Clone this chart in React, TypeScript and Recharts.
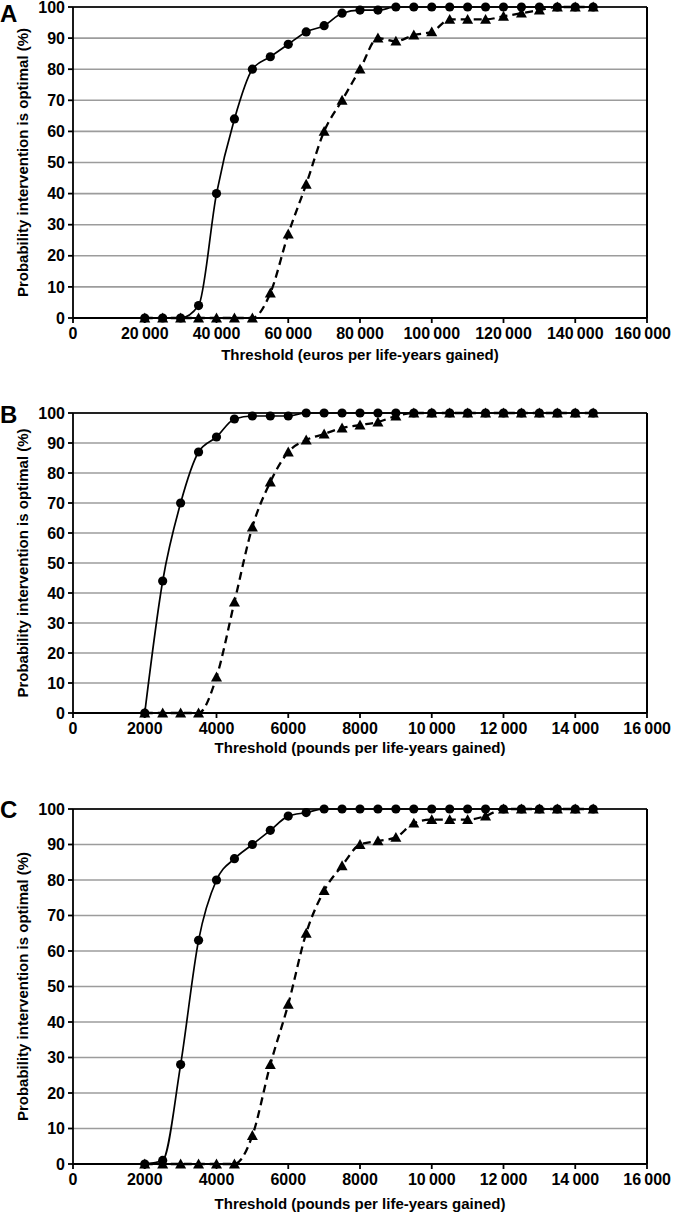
import React from "react";
import {
  LineChart,
  Line,
  XAxis,
  YAxis,
  CartesianGrid,
  ReferenceLine,
} from "recharts";

// thresholds (x) and probabilities (%)
const eurosX = [
  20000, 25000, 30000, 35000, 40000, 45000, 50000, 55000, 60000, 65000, 70000,
  75000, 80000, 85000, 90000, 95000, 100000, 105000, 110000, 115000, 120000,
  125000, 130000, 135000, 140000, 145000,
];
const eurosCircle = [
  0, 0, 0, 4, 40, 64, 80, 84, 88, 92, 94, 98, 99, 99, 100, 100, 100, 100, 100,
  100, 100, 100, 100, 100, 100, 100,
];
const eurosTriangle = [
  0, 0, 0, 0, 0, 0, 0, 8, 27, 43, 60, 70, 80, 90, 89, 91, 92, 96, 96, 96, 97,
  98, 99, 100, 100, 100,
];

const poundsX = [
  2000, 2500, 3000, 3500, 4000, 4500, 5000, 5500, 6000, 6500, 7000, 7500, 8000,
  8500, 9000, 9500, 10000, 10500, 11000, 11500, 12000, 12500, 13000, 13500,
  14000, 14500,
];
const bCircle = [
  0, 44, 70, 87, 92, 98, 99, 99, 99, 100, 100, 100, 100, 100, 100, 100, 100,
  100, 100, 100, 100, 100, 100, 100, 100, 100,
];
const bTriangle = [
  0, 0, 0, 0, 12, 37, 62, 77, 87, 91, 93, 95, 96, 97, 99, 100, 100, 100, 100,
  100, 100, 100, 100, 100, 100, 100,
];
const cCircle = [
  0, 1, 28, 63, 80, 86, 90, 94, 98, 99, 100, 100, 100, 100, 100, 100, 100, 100,
  100, 100, 100, 100, 100, 100, 100, 100,
];
const cTriangle = [
  0, 0, 0, 0, 0, 0, 8, 28, 45, 65, 77, 84, 90, 91, 92, 96, 97, 97, 97, 98, 100,
  100, 100, 100, 100, 100,
];

const eurosTicks = [0, 20000, 40000, 60000, 80000, 100000, 120000, 140000, 160000];
const poundsTicks = [0, 2000, 4000, 6000, 8000, 10000, 12000, 14000, 16000];
const yTicks = [0, 10, 20, 30, 40, 50, 60, 70, 80, 90, 100];

const FONT = '"Liberation Sans", Arial, Helvetica, sans-serif';
const Y_TITLE = "Probability intervention is optimal (%)";
const TOP = 10;

function fmt(v: number) {
  if (v < 10000) return String(v);
  return `${Math.floor(v / 1000)}\u2009${String(v % 1000).padStart(3, "0")}`;
}

function build(xs: number[], c: number[], t: number[]) {
  return xs.map((x, i) => ({ x, c: c[i], t: t[i] }));
}

function CircleDot(props: any) {
  const { cx, cy, index } = props;
  if (cx == null || cy == null) return <g key={`c-${index}`} />;
  return <circle key={`c-${index}`} cx={cx} cy={cy} r={4.6} fill="#000" />;
}

function TriangleDot(props: any) {
  const { cx, cy, index } = props;
  if (cx == null || cy == null) return <g key={`t-${index}`} />;
  const s = 5.5;
  return (
    <path
      key={`t-${index}`}
      d={`M${cx},${cy - s} L${cx + s},${cy + s * 0.8} L${cx - s},${cy + s * 0.8} Z`}
      fill="#000"
    />
  );
}

// x tick label; the last one is nudged left so it stays inside the page
function XTick(props: any) {
  const { x, y, payload, index, visibleTicksCount } = props;
  const last = index === visibleTicksCount - 1;
  return (
    <text
      x={last ? x + 24 : x}
      y={y}
      dy="0.71em"
      textAnchor={last ? "end" : "middle"}
      fill="#000"
      fontSize={16}
      fontWeight={700}
      fontFamily={FONT}
    >
      {fmt(payload.value)}
    </text>
  );
}

interface PanelProps {
  plotTop: number;
  height: number;
  plotHeight: number;
  data: { x: number; c: number; t: number }[];
  xTicks: number[];
  xTitle: string;
  titleOffset: number;
}

function Panel({ plotTop, height, plotHeight, data, xTicks, xTitle, titleOffset }: PanelProps) {
  const xMax = xTicks[xTicks.length - 1];
  const tickStyle = { fill: "#000", fontSize: 16, fontWeight: 700, fontFamily: FONT };
  return (
    <div style={{ position: "absolute", left: 0, top: plotTop - TOP }}>
      <LineChart
        width={673}
        height={height}
        data={data}
        margin={{ top: TOP, right: 26, left: 0, bottom: 0 }}
      >
        <CartesianGrid
          horizontal
          vertical={false}
          stroke="#9c9c9c"
          strokeWidth={1.6}
        />
        <XAxis
          type="number"
          dataKey="x"
          domain={[0, xMax]}
          ticks={xTicks}
          interval={0}
          height={height - TOP - plotHeight}
          stroke="#000"
          strokeWidth={1.8}
          tickSize={5}
          tickMargin={5}
          tick={<XTick />}
          label={{
            value: xTitle,
            position: "insideBottom",
            offset: titleOffset,
            fill: "#000",
            fontSize: 15,
            fontWeight: 700,
            fontFamily: FONT,
          }}
        />
        <YAxis
          type="number"
          domain={[0, 100]}
          ticks={yTicks}
          interval={0}
          width={73}
          stroke="#000"
          strokeWidth={1.8}
          tickSize={5}
          tickMargin={3}
          tick={tickStyle}
          label={{
            content: (p: any) => {
              const vb = p.viewBox || { y: TOP, height: plotHeight };
              const cy = vb.y + vb.height / 2;
              return (
                <text
                  x={22}
                  y={cy}
                  transform={`rotate(-90 22 ${cy})`}
                  textAnchor="middle"
                  dominantBaseline="central"
                  fill="#000"
                  fontSize={15}
                  fontWeight={700}
                  fontFamily={FONT}
                >
                  {Y_TITLE}
                </text>
              );
            },
          }}
        />
        <ReferenceLine y={100} stroke="#222" strokeWidth={2} />
        <ReferenceLine x={xMax} stroke="#000" strokeWidth={2} />
        <Line
          type="monotone"
          dataKey="t"
          stroke="#000"
          strokeWidth={2.3}
          strokeDasharray="8 5"
          dot={TriangleDot}
          activeDot={false}
          isAnimationActive={false}
        />
        <Line
          type="monotone"
          dataKey="c"
          stroke="#000"
          strokeWidth={1.7}
          dot={CircleDot}
          activeDot={false}
          isAnimationActive={false}
        />
      </LineChart>
    </div>
  );
}

export default function App() {
  return (
    <div style={{ position: "relative", width: 673, height: 1216, background: "#fff", fontFamily: FONT }}>
      <style>{"body{margin:0}"}</style>
      <Panel
        plotTop={7}
        height={373}
        plotHeight={311}
        data={build(eurosX, eurosCircle, eurosTriangle)}
        xTicks={eurosTicks}
        xTitle="Threshold (euros per life-years gained)"
        titleOffset={10}
      />
      <Panel
        plotTop={413}
        height={362}
        plotHeight={300}
        data={build(poundsX, bCircle, bTriangle)}
        xTicks={poundsTicks}
        xTitle="Threshold (pounds per life-years gained)"
        titleOffset={12}
      />
      <Panel
        plotTop={809}
        height={417}
        plotHeight={355}
        data={build(poundsX, cCircle, cTriangle)}
        xTicks={poundsTicks}
        xTitle="Threshold (pounds per life-years gained)"
        titleOffset={7}
      />
      <svg
        width={673}
        height={1216}
        style={{ position: "absolute", left: 0, top: 0, pointerEvents: "none" }}
      >
        <g fontFamily={FONT} fontWeight={700} fontSize={24} fill="#000">
          <text x={0} y={22}>A</text>
          <text x={0} y={423}>B</text>
          <text x={0} y={818}>C</text>
        </g>
      </svg>
    </div>
  );
}
